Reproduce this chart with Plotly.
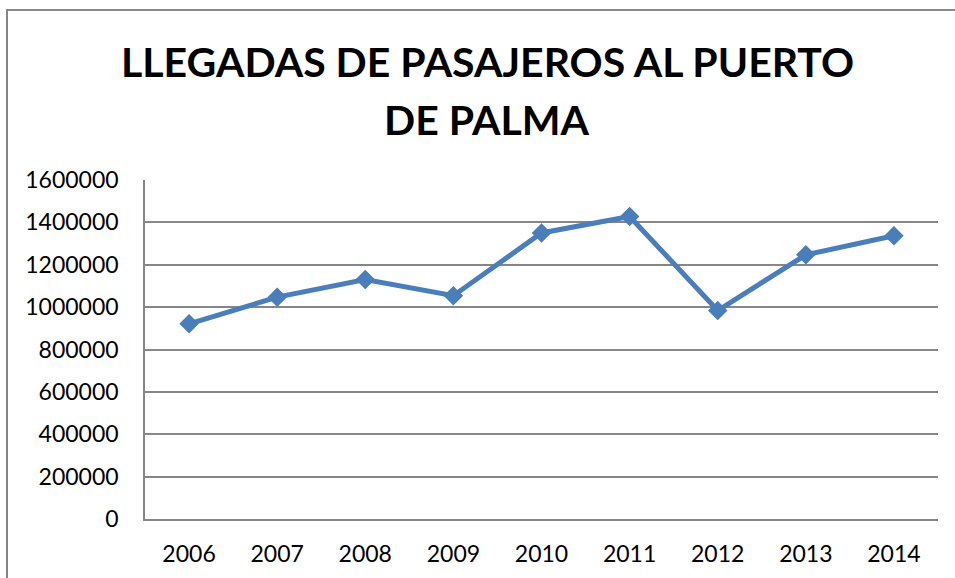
import plotly.graph_objects as go

years = ["2006", "2007", "2008", "2009", "2010", "2011", "2012", "2013", "2014"]
arrivals = [921000, 1047000, 1130000, 1054000, 1350000, 1428000, 984000, 1247000, 1337000]
y_ticks = [0, 200000, 400000, 600000, 800000, 1000000, 1200000, 1400000, 1600000]
title_lines = ["LLEGADAS DE PASAJEROS AL PUERTO", "DE PALMA"]

W, H = 955, 578
L, R, T, B = 145, 17, 180, 59
pw, ph = W - L - R, H - T - B


def px_x(px):
    return (px - L) / pw


def px_y(py):
    return (H - B - py) / ph


fig = go.Figure()
fig.add_trace(go.Scatter(
    x=years, y=arrivals, mode="lines+markers",
    line=dict(color="#4A7EBB", width=5),
    marker=dict(symbol="diamond", size=15, color="#4A7EBB"),
    showlegend=False,
))

fig.update_layout(
    width=W, height=H,
    margin=dict(l=L, r=R, t=T, b=B),
    paper_bgcolor="white", plot_bgcolor="white",
    xaxis=dict(type="category", range=[-0.5, 8.5], showgrid=False,
               showline=True, linecolor="#868686", linewidth=1.5,
               ticks="", tickfont=dict(family="Lato", size=23, color="black"),
               ticklabelstandoff=14),
    yaxis=dict(range=[0, 1600000], tickvals=y_ticks,
               ticktext=[str(v) for v in y_ticks],
               showgrid=True, gridcolor="#868686", gridwidth=1.5,
               showline=True, linecolor="#868686", linewidth=1.5,
               zeroline=False, ticks="",
               tickfont=dict(family="Lato", size=23, color="black"),
               ticklabelstandoff=20),
    font=dict(family="Lato", color="black"),
)

for text, cy in zip(title_lines, [61.5, 119]):
    fig.add_annotation(text=text, xref="paper", yref="paper",
                       x=px_x(487), y=px_y(cy), xanchor="center", yanchor="middle",
                       showarrow=False,
                       font=dict(family="Lato", size=41, color="black", weight="bold"))

# outer chart border (left and top edges visible)
fig.add_shape(type="rect", xref="paper", yref="paper",
              x0=px_x(7), x1=px_x(980),
              y0=px_y(600), y1=px_y(10),
              line=dict(color="#868686", width=2), layer="below")

fig.write_html("out.html", config={"displayModeBar": False},
               post_script="document.body.style.margin='0px';")
